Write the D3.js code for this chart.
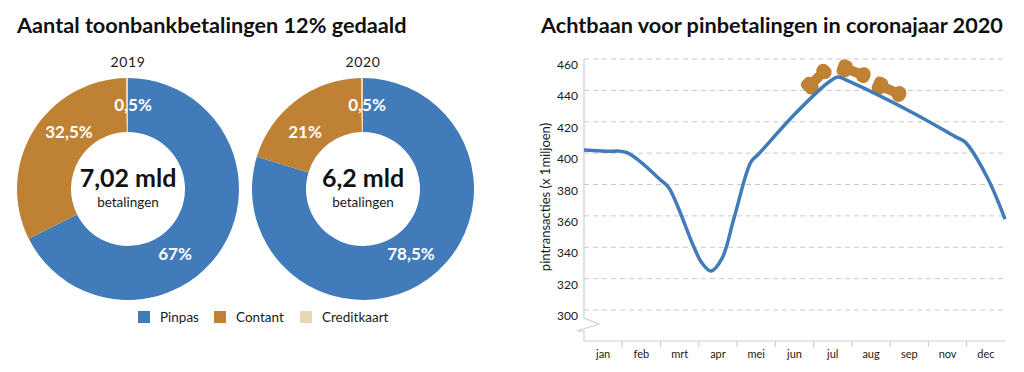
<!DOCTYPE html>
<html>
<head>
<meta charset="utf-8">
<script src="https://cdn.jsdelivr.net/npm/d3@7"></script>
<style>
body { margin: 0; background: #fff; }
text { font-family: Lato, sans-serif; fill: #1a1a1a; }
</style>
</head>
<body>
<div id="main"></div>
<script>
var ctx = { w: 1024, h: 372 };

// data
var categories = ["Pinpas", "Contant", "Creditkaart"];
var colors = ["#417bb9", "#bf8133", "#e8d7b5"];
var years = ["2019", "2020"];
var shares2019 = [67.6, 32.1, 0.3];
var shares2020 = [79.7, 20, 0.3];
var labels2019 = ["67%", "32,5%", "0,5%"];
var labels2020 = ["78,5%", "21%", "0,5%"];
var totals = ["7,02 mld", "6,2 mld"];

var months = ["jan", "feb", "mrt", "apr", "mei", "jun", "jul", "aug", "sep", "nov", "dec"];
var yTicks = [300, 320, 340, 360, 380, 400, 420, 440, 460];
var lineT = [0, 0.6, 1.12, 2.0, 2.22, 2.87, 3.08, 3.32, 3.61, 3.92, 4.36, 4.55, 5.51, 6.38, 6.64, 6.9, 8.6, 9.7, 9.96, 10.53, 11];
var lineV = [402, 401.2, 400.3, 382.9, 377.8, 340.2, 330, 324.9, 333.1, 358.6, 394.3, 399.1, 424.9, 445, 448.5, 446, 425.6, 410.5, 407, 384.8, 358];

var svg = d3.select("#main").append("svg").attr("width", ctx.w).attr("height", ctx.h);

svg.append("text").attr("x", 17).attr("y", 33).attr("font-size", 21.7).attr("font-weight", 700)
    .style("fill", "#111").text("Aantal toonbankbetalingen 12% gedaald");
svg.append("text").attr("x", 541).attr("y", 33).attr("font-size", 21.7).attr("font-weight", 700)
    .style("fill", "#111").text("Achtbaan voor pinbetalingen in coronajaar 2020");

/* donuts */
var pie = d3.pie().sort(null).value((d) => d);
var arc = d3.arc().innerRadius(57).outerRadius(111);

var drawDonut = function (cx, year, shares, labels, total, labelPos) {
    var g = svg.append("g").attr("transform", `translate(${cx},189)`);
    g.selectAll("path")
        .data(pie(shares))
        .enter()
        .append("path")
        .attr("d", arc)
        .attr("fill", (d, i) => colors[i]);

    g.selectAll(".pct")
        .data(labels)
        .enter()
        .append("text")
        .attr("class", "pct")
        .attr("x", (d, i) => labelPos[i][0])
        .attr("y", (d, i) => labelPos[i][1])
        .attr("text-anchor", "middle")
        .attr("font-size", 17)
        .attr("font-weight", 700)
        .style("fill", "#fff")
        .text((d) => d);

    g.append("text").attr("y", -122).attr("text-anchor", "middle").attr("font-size", 14)
        .attr("letter-spacing", 0.6).text(year);
    g.append("text").attr("y", -2).attr("text-anchor", "middle").attr("font-size", 25)
        .attr("font-weight", 700).style("fill", "#111").text(total);
    g.append("text").attr("y", 18).attr("text-anchor", "middle").attr("font-size", 13.5).text("betalingen");
};

drawDonut(128, years[0], shares2019, labels2019, totals[0], [[47, 71], [-59, -51], [5, -78]]);
drawDonut(363, years[1], shares2020, labels2020, totals[1], [[48, 71], [-58, -51], [4, -78]]);

/* legend */
var legendX = [138, 214, 300];
var legend = svg.selectAll(".legend")
    .data(categories)
    .enter()
    .append("g")
    .attr("class", "legend")
    .attr("transform", (d, i) => `translate(${legendX[i]},311)`);
legend.append("rect").attr("width", 12).attr("height", 12).attr("fill", (d, i) => colors[i]);
legend.append("text").attr("x", 22).attr("y", 10.5).attr("font-size", 13.5).text((d) => d);

/* line chart */
var x = d3.scaleLinear().domain([0, 11]).range([584, 1005]);
var y = d3.scaleLinear().domain([300, 460]).range([310, 59]);

svg.selectAll(".grid")
    .data(yTicks)
    .enter()
    .append("line")
    .attr("class", "grid")
    .attr("x1", 584)
    .attr("x2", 1005)
    .attr("y1", (d) => y(d))
    .attr("y2", (d) => y(d))
    .attr("stroke", "#c8c8c8")
    .attr("stroke-dasharray", "5,4");

svg.selectAll(".ytick")
    .data(yTicks)
    .enter()
    .append("text")
    .attr("class", "ytick")
    .attr("x", 578)
    .attr("y", (d) => y(d) + 10)
    .attr("text-anchor", "end")
    .attr("font-size", 12)
    .text((d) => d);

// axis with break
svg.append("path")
    .attr("d", "M584,59V318L599,324L577,331H584V341H1005")
    .attr("fill", "none")
    .attr("stroke", "#cfcfcf")
    .attr("stroke-width", 1.2);

svg.selectAll(".xtick")
    .data(d3.range(1, 11))
    .enter()
    .append("line")
    .attr("class", "xtick")
    .attr("x1", (d) => x(d))
    .attr("x2", (d) => x(d))
    .attr("y1", 341)
    .attr("y2", 347)
    .attr("stroke", "#cfcfcf")
    .attr("stroke-width", 1.2);

svg.selectAll(".xlabel")
    .data(months)
    .enter()
    .append("text")
    .attr("class", "xlabel")
    .attr("x", (d, i) => x(i + 0.5))
    .attr("y", 358)
    .attr("text-anchor", "middle")
    .attr("font-size", 11)
    .text((d) => d);

svg.append("text")
    .attr("transform", "translate(550,197) rotate(-90)")
    .attr("text-anchor", "middle")
    .attr("font-size", 13)
    .text("pintransacties (x 1miljoen)");

// bones on the peak
var drawBone = function (px, py, rot, half) {
    var b = svg.append("g").attr("transform", `translate(${px},${py}) rotate(${rot})`).attr("fill", "#bf8133");
    b.append("line")
        .attr("x1", -half)
        .attr("x2", half)
        .attr("stroke", "#bf8133")
        .attr("stroke-width", 10);
    b.append("rect").attr("x", -half - 6).attr("y", -8.5).attr("width", 14).attr("height", 17).attr("rx", 5);
    b.append("rect").attr("x", half - 7).attr("y", -8).attr("width", 14).attr("height", 16).attr("rx", 7);
};
drawBone(816.5, 79, -45, 10.5);
drawBone(853.5, 71.5, 20, 10.5);
drawBone(889, 89.5, 24, 11);

var line = d3.line()
    .x((d, i) => x(lineT[i]))
    .y((d) => y(d))
    .curve(d3.curveCatmullRom.alpha(0.5));

svg.append("path")
    .datum(lineV)
    .attr("d", line)
    .attr("fill", "none")
    .attr("stroke", "#417bb9")
    .attr("stroke-width", 3.5)
    .attr("stroke-linejoin", "round");
</script>
</body>
</html>
